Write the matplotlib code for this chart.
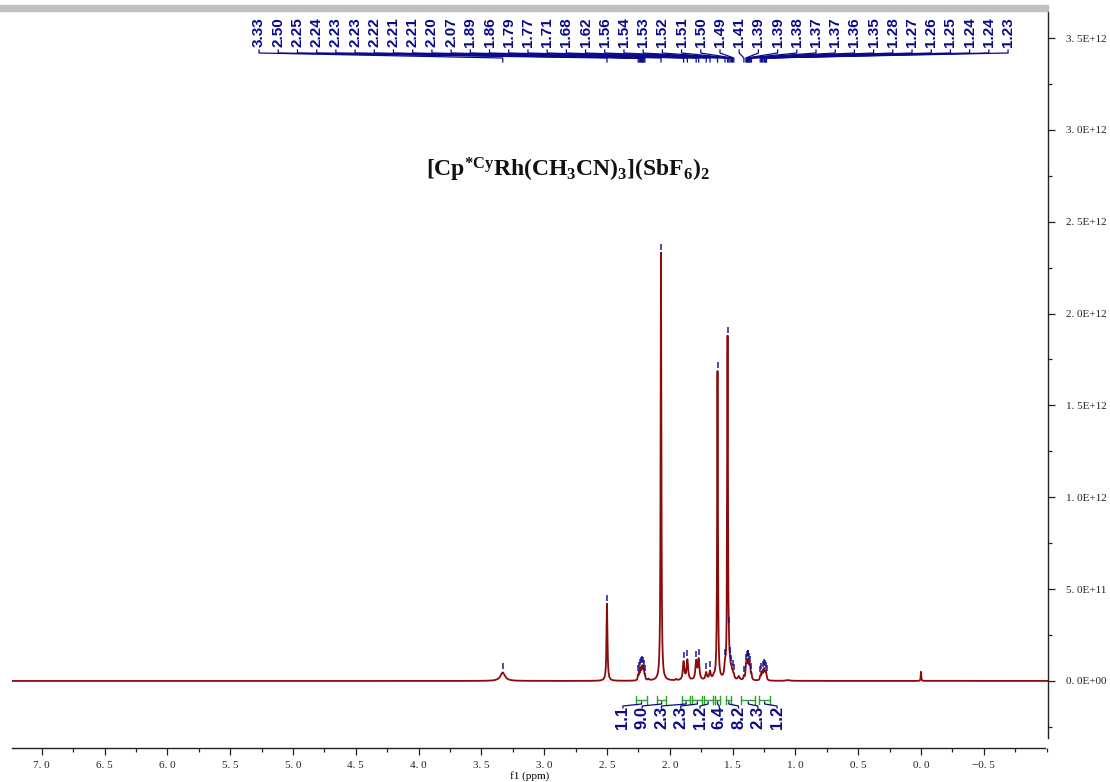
import numpy as np
import matplotlib
matplotlib.use("Agg")
import matplotlib.pyplot as plt
from matplotlib.transforms import blended_transform_factory
from matplotlib.ticker import MultipleLocator, FuncFormatter
from matplotlib.patches import Rectangle

# ---- data -------------------------------------------------------------
# picked peaks: chemical shift (ppm), line amplitude (x1e12), half width (ppm)
peak_shifts = [3.33, 2.50, 2.252, 2.243, 2.234, 2.226, 2.218, 2.212, 2.206, 2.198,
               2.07, 1.89, 1.86, 1.79, 1.77, 1.71, 1.68, 1.62, 1.56, 1.54,
               1.53, 1.52, 1.51, 1.50, 1.49, 1.41, 1.394, 1.388, 1.38, 1.374,
               1.366, 1.36, 1.35, 1.28, 1.27, 1.26, 1.25, 1.244, 1.236, 1.23]
peak_amps = [0.046, 0.42, 0.025, 0.04, 0.05, 0.055, 0.055, 0.05, 0.04, 0.025,
             2.33, 0.10, 0.11, 0.10, 0.11, 0.04, 0.045, 1.68, 0.06, 1.85,
             0.08, 0.05, 0.04, 0.03, 0.02, 0.02, 0.06, 0.07, 0.07, 0.07,
             0.06, 0.05, 0.03, 0.02, 0.035, 0.045, 0.045, 0.04, 0.035, 0.02]
peak_widths = [0.022, 0.0045, 0.0035, 0.0035, 0.0035, 0.0035, 0.0035, 0.0035, 0.0035, 0.0035,
               0.0035, 0.007, 0.007, 0.007, 0.007, 0.007, 0.007, 0.0035, 0.006, 0.0035,
               0.005, 0.005, 0.005, 0.005, 0.005, 0.004, 0.004, 0.004, 0.004, 0.004,
               0.004, 0.004, 0.004, 0.004, 0.004, 0.004, 0.004, 0.004, 0.004, 0.004]

# unlabelled lines (TMS and weak features)
extra_shifts = [0.00, 2.17, 1.95, 1.65, 1.45, 1.06]
extra_amps = [0.05, 0.008, 0.006, 0.015, 0.02, 0.004]
extra_widths = [0.0025, 0.006, 0.006, 0.008, 0.008, 0.02]

# integration ranges (ppm) and values
int_starts = [2.27, 2.10, 1.90, 1.82, 1.73, 1.64, 1.55, 1.43, 1.29]
int_ends = [2.18, 2.03, 1.84, 1.74, 1.66, 1.60, 1.51, 1.32, 1.20]
int_values = [1.1, 9.0, 2.3, 2.3, 1.2, 6.4, 8.2, 2.3, 1.2]

x_ticks = [7.0, 6.5, 6.0, 5.5, 5.0, 4.5, 4.0, 3.5, 3.0, 2.5, 2.0, 1.5, 1.0, 0.5, 0.0, -0.5]
y_ticks = [0.0, 0.5e12, 1.0e12, 1.5e12, 2.0e12, 2.5e12, 3.0e12, 3.5e12]

# ---- spectrum ---------------------------------------------------------
ppm = np.linspace(-1.1, 7.4, 60000)
all_c = np.array(peak_shifts + extra_shifts)
all_a = np.array(peak_amps + extra_amps) * 1e12
all_w = np.array(peak_widths + extra_widths)
spec = np.zeros_like(ppm)
for c, a, w in zip(all_c, all_a, all_w):
    spec += a / (1.0 + ((ppm - c) / w) ** 2)

plt.rcParams["mathtext.fontset"] = "custom"
plt.rcParams["mathtext.rm"] = "Liberation Serif:bold"
plt.rcParams["mathtext.it"] = "Liberation Serif:bold"
plt.rcParams["mathtext.bf"] = "Liberation Serif:bold"

W, H = 1110, 782
fig = plt.figure(figsize=(W / 100, H / 100), dpi=100)
ax_l, ax_r, ax_b, ax_t = 12, 1048, 748, 11
ax = fig.add_axes([ax_l / W, 1 - ax_b / H, (ax_r - ax_l) / W, (ax_b - ax_t) / H])
ymin, ymax = -0.365e12, 3.647e12
ax.set_xlim(7.237, -1.011)
ax.set_ylim(ymin, ymax)

ax.plot(ppm, spec, color="#8b0a0a", lw=1.3, solid_joinstyle="round")

# axes styling
for s in ("left", "top"):
    ax.spines[s].set_visible(False)
ax.spines["right"].set_bounds(-0.31e12, ymax)
ax.spines["bottom"].set_bounds(7.237, -0.99)
for s in ("right", "bottom"):
    ax.spines[s].set_color("#222222")
    ax.spines[s].set_linewidth(1.0)
ax.yaxis.tick_right()
ax.set_xticks(x_ticks)
ax.xaxis.set_minor_locator(MultipleLocator(0.25))
ax.set_yticks(y_ticks)
ax.yaxis.set_minor_locator(MultipleLocator(0.25e12))


def xfmt(v, _):
    s = f"{abs(v):.1f}".replace(".", ". ")
    return ("\u2212" if v < -1e-9 else "") + s


def yfmt(v, _):
    m, e = f"{v:.1E}".split("E")
    return m.replace(".", ". ") + "E" + e


ax.xaxis.set_major_formatter(FuncFormatter(xfmt))
ax.yaxis.set_major_formatter(FuncFormatter(yfmt))
ax.tick_params(axis="x", which="major", direction="out", length=5, width=0.9, pad=4.5, colors="#222222")
ax.tick_params(axis="x", which="minor", direction="out", length=3, width=0.9, colors="#222222")
ax.tick_params(axis="y", which="major", direction="out", length=5, width=0.9, pad=8, colors="#222222")
ax.tick_params(axis="y", which="minor", direction="out", length=3, width=0.9, colors="#222222")
for lab in ax.get_xticklabels() + ax.get_yticklabels():
    lab.set_fontfamily("Liberation Serif")
    lab.set_fontsize(8)
ax.set_xlabel("f1 (ppm)", fontfamily="Liberation Serif", fontsize=8, labelpad=0.5)

# grey strip along the top
fig.patches.append(Rectangle((0, 1 - 11 / H), 1048 / W, 6 / H, transform=fig.transFigure,
                             color="#c0c0c0", zorder=0))

# title
fig.text(568 / W, 1 - 170 / H, r"$\mathrm{[Cp^{*Cy}Rh(CH_3CN)_3](SbF_6)_2}$",
         ha="center", va="center", fontsize=17, color="#111111")

# ---- peak picking annotations -----------------------------------------
px_to_data = (ymax - ymin) / (ax_b - ax_t)
navy = "#0a0a8c"
trans_fig_y = blended_transform_factory(ax.transData, fig.transFigure)


def fy(py):
    return 1 - py / H


n = len(peak_shifts)
lab_x = np.linspace(5.27, -0.693, n)
for v, lx in zip(peak_shifts, lab_x):
    yv = np.interp(v, ppm, spec)
    ax.plot([v, v], [yv + 3 * px_to_data, yv + 9 * px_to_data], color=navy, lw=1.2,
            alpha=0.85, solid_capstyle="butt")
    ax.plot([lx, lx, v, v], [fy(50), fy(53), fy(58), fy(62)], color=navy, lw=0.9,
            transform=trans_fig_y, clip_on=False)
    ax.text(lx, fy(47), f"{v:.2f}", rotation=90, ha="center", va="bottom",
            fontfamily="Liberation Sans", fontweight="bold", fontsize=11, color=navy,
            transform=trans_fig_y, clip_on=False)

# ---- integrals --------------------------------------------------------
green = "#2ca02c"
int_lab_x = np.linspace(2.373, 1.146, len(int_values))
for a, b, val, lx in zip(int_starts, int_ends, int_values, int_lab_x):
    ax.plot([a, b], [fy(700), fy(700)], color=green, lw=1.0, transform=trans_fig_y)
    for e in (a, b):
        ax.plot([e, e], [fy(696), fy(704)], color=green, lw=1.0, transform=trans_fig_y)
    c = 0.5 * (a + b)
    ax.plot([c, c, lx, lx], [fy(702), fy(704), fy(706), fy(708)], color=navy, lw=0.9,
            transform=trans_fig_y)
    ax.text(lx, fy(706), f"{val:.1f}", rotation=90, ha="center", va="top",
            fontfamily="Liberation Sans", fontweight="bold", fontsize=12, color=navy,
            transform=trans_fig_y)

fig.savefig("out.png", dpi=100)
